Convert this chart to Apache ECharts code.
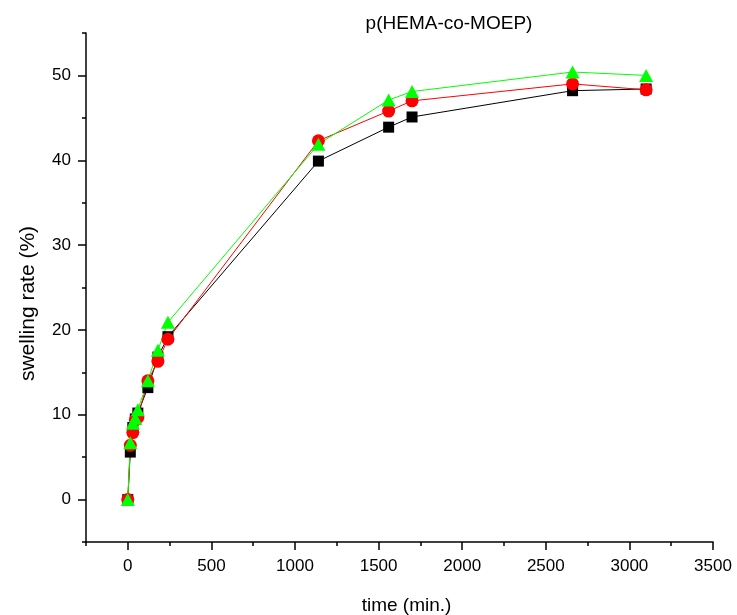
<!DOCTYPE html>
<html>
<head>
<meta charset="utf-8">
<script src="https://cdn.jsdelivr.net/npm/echarts@6/dist/echarts.min.js"></script>
<style>
  html, body { margin: 0; padding: 0; background: #fff; }
  #chartDom { width: 737px; height: 615px; }
</style>
</head>
<body>
<div id="chartDom"></div>
<script>
// time points (min.)
var times = [0, 15, 30, 45, 60, 120, 180, 240, 1140, 1560, 1700, 2660, 3100];
// swelling rate (%) for the three samples
var blackVals = [0, 5.6, 8.5, 9.5, 10.2, 13.2, 16.8, 19.2, 39.9, 43.9, 45.1, 48.2, 48.4];
var redVals   = [0, 6.4, 7.9, 9.4, 9.7, 14.0, 16.3, 18.9, 42.3, 45.8, 47.0, 49.0, 48.3];
var greenVals = [0, 6.7, 9.0, 9.6, 10.6, 14.0, 17.6, 20.9, 41.9, 47.1, 48.1, 50.4, 50.0];
// tick positions
var xMajor = [0, 500, 1000, 1500, 2000, 2500, 3000, 3500];
var xMinor = [-250, 250, 750, 1250, 1750, 2250, 2750, 3250];
var yMajor = [0, 10, 20, 30, 40, 50];
var yMinor = [-5, 5, 15, 25, 35, 45, 55];

function pairs(vals) {
    return times.map(function (t, i) { return [t, vals[i]]; });
}

var chartDom = document.getElementById('chartDom');
var myChart = echarts.init(chartDom);
var font = 'Liberation Sans, Arial, sans-serif';
var black = '#000';

var option = {
    animation: false,
    title: {
        text: 'p(HEMA-co-MOEP)',
        left: 444,
        top: 9,
        textAlign: 'center',
        textStyle: { fontFamily: font, fontSize: 19, fontWeight: 'normal', color: black }
    },
    grid: { left: 86, right: 24, top: 33, bottom: 73, outerBoundsMode: 'none', containLabel: false },
    xAxis: [
        {
            type: 'value',
            min: -250,
            max: 3500,
            position: 'bottom',
            name: 'time (min.)',
            nameLocation: 'middle',
            nameGap: 54,
            nameTextStyle: { fontFamily: font, fontSize: 19, color: black, padding: [0, 0, 0, 14] },
            axisLine: { onZero: false, lineStyle: { color: black, width: 1.5 } },
            axisTick: { length: 8, customValues: xMajor, lineStyle: { color: black, width: 1.5 } },
            axisLabel: {
                margin: 16, customValues: xMajor, fontFamily: font, fontSize: 17, color: black,
                formatter: function (v) { return String(v); }
            },
            splitLine: { show: false }
        },
        {
            // minor ticks only
            type: 'value',
            min: -250,
            max: 3500,
            position: 'bottom',
            offset: 0,
            axisLine: { show: false, onZero: false },
            axisTick: { length: 4, customValues: xMinor, lineStyle: { color: black, width: 1.5 } },
            axisLabel: { show: false },
            splitLine: { show: false }
        }
    ],
    yAxis: [
        {
            type: 'value',
            min: -5,
            max: 55,
            position: 'left',
            name: 'swelling rate (%)',
            nameLocation: 'middle',
            nameGap: 47,
            nameTextStyle: { fontFamily: font, fontSize: 21, color: black, padding: [0, 32, 0, 0] },
            axisLine: { onZero: false, lineStyle: { color: black, width: 1.5 } },
            axisTick: { length: 8, customValues: yMajor, lineStyle: { color: black, width: 1.5 } },
            axisLabel: {
                margin: 15, customValues: yMajor, fontFamily: font, fontSize: 17, color: black,
                formatter: function (v) { return String(v); }
            },
            splitLine: { show: false }
        },
        {
            type: 'value',
            min: -5,
            max: 55,
            position: 'left',
            offset: 0,
            axisLine: { show: false, onZero: false },
            axisTick: { length: 4, customValues: yMinor, lineStyle: { color: black, width: 1.5 } },
            axisLabel: { show: false },
            splitLine: { show: false }
        }
    ],
    series: [
        {
            name: 'black',
            type: 'line',
            data: pairs(blackVals),
            symbol: 'rect',
            symbolSize: 11,
            itemStyle: { color: black },
            lineStyle: { color: black, width: 1 }
        },
        {
            name: 'red',
            type: 'line',
            data: pairs(redVals),
            symbol: 'circle',
            symbolSize: 13,
            itemStyle: { color: '#ff0000' },
            lineStyle: { color: '#ff0000', width: 1 }
        },
        {
            name: 'green',
            type: 'line',
            data: pairs(greenVals),
            symbol: 'triangle',
            symbolSize: [14, 13],
            itemStyle: { color: '#00ff00' },
            lineStyle: { color: '#00ff00', width: 1 }
        }
    ]
};
myChart.setOption(option);
</script>
</body>
</html>
